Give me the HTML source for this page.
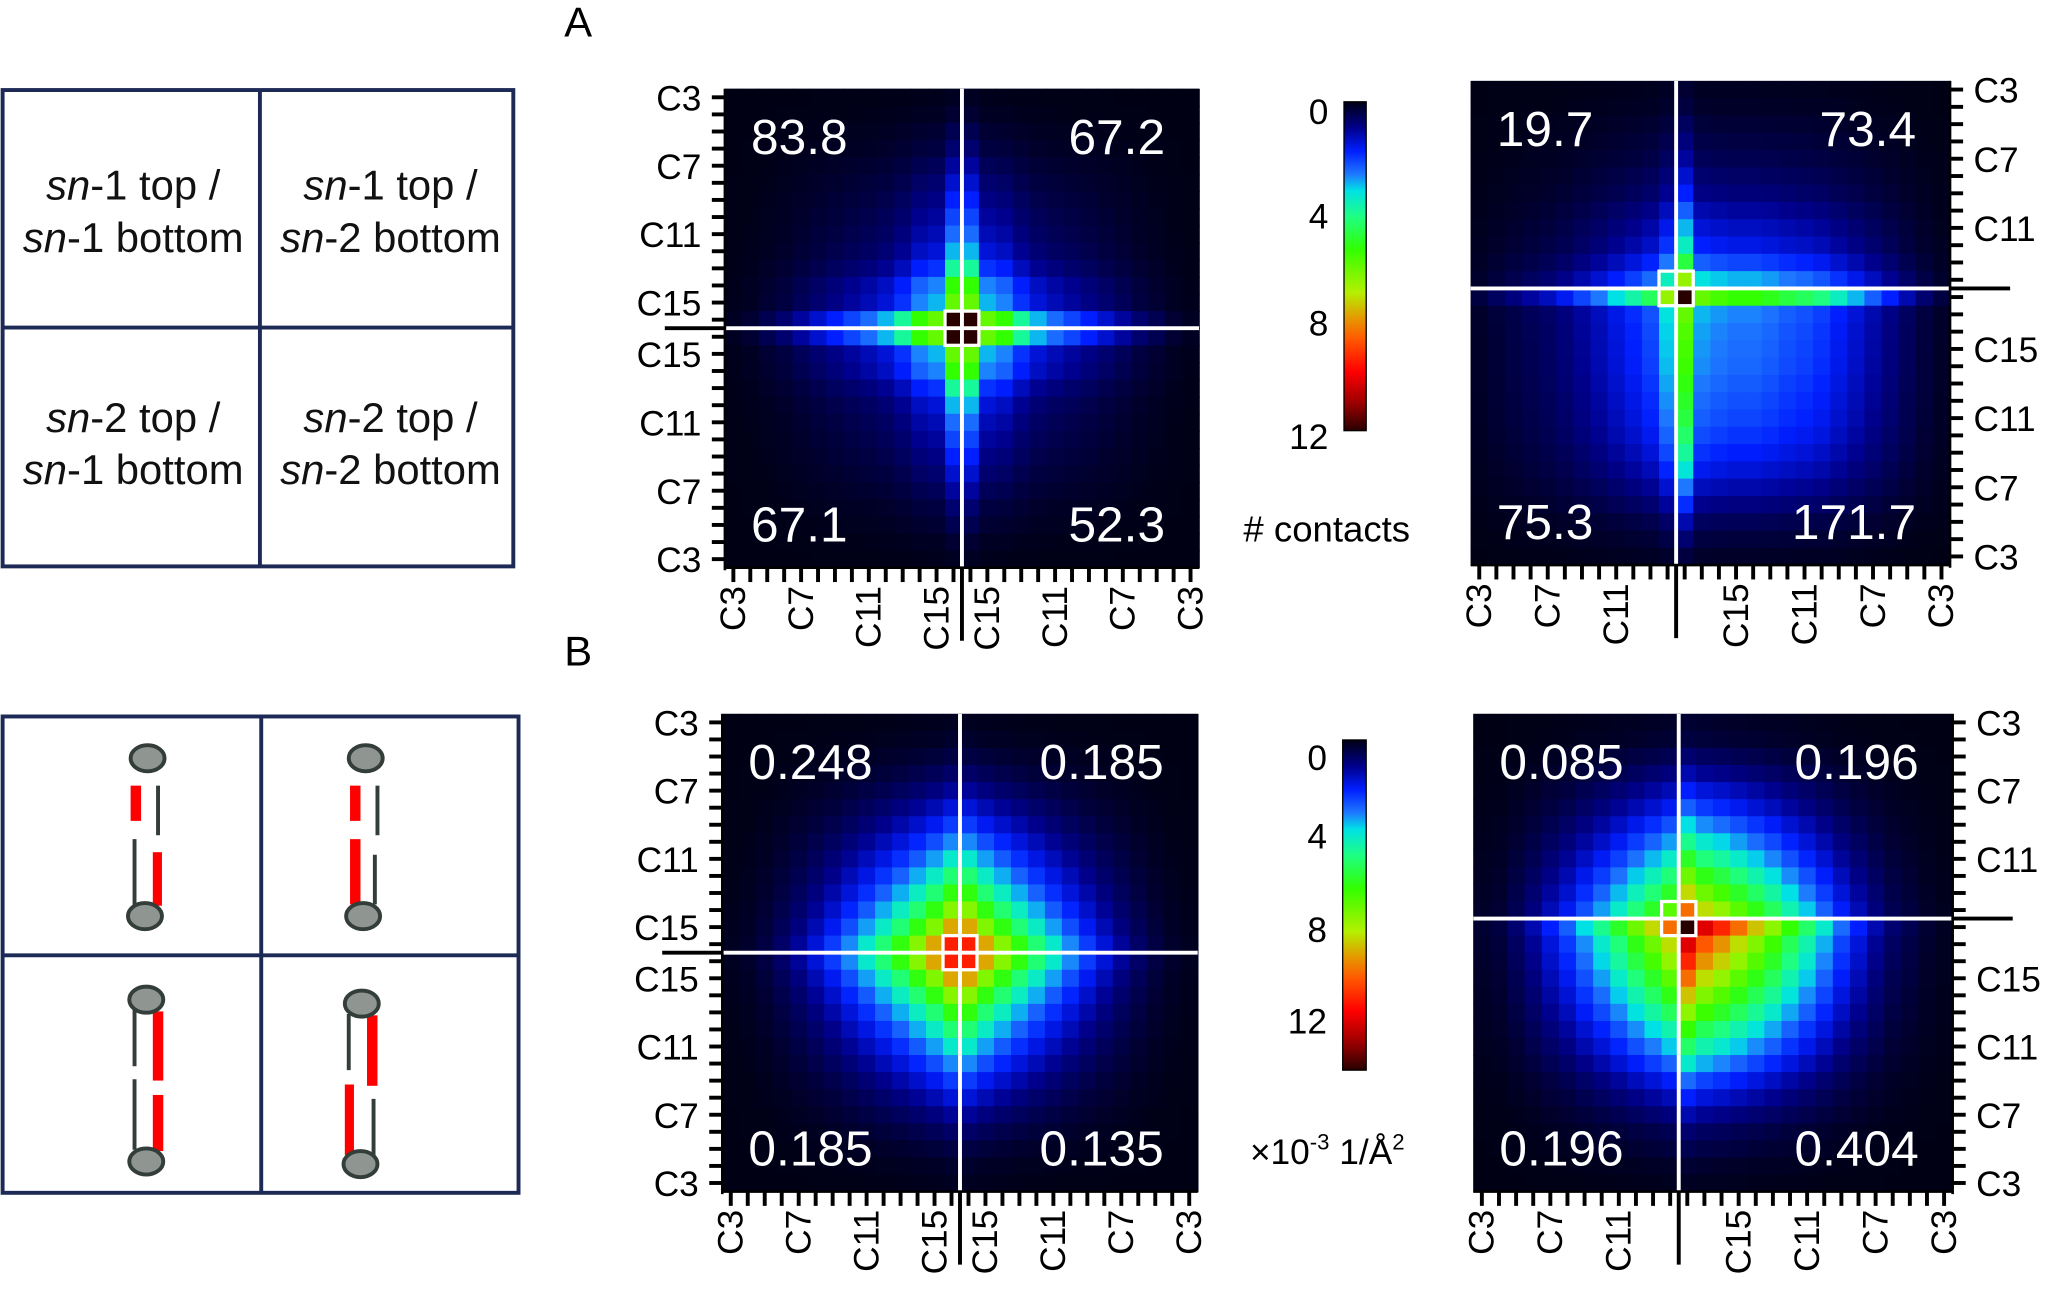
<!DOCTYPE html>
<html><head><meta charset="utf-8"><style>
html,body{margin:0;padding:0;background:#fff;}
svg{display:block;font-family:"Liberation Sans",Arial,sans-serif;}
</style></head><body>
<svg id="fig" xmlns="http://www.w3.org/2000/svg" width="2048" height="1292" viewBox="0 0 1568 990" preserveAspectRatio="none">
<defs>
<linearGradient id="cbar" x1="0" y1="0" x2="0" y2="1"></linearGradient>
</defs>
<rect x="0" y="0" width="1568" height="990" fill="#fff"/>
<text x="432" y="28" font-size="32">A</text>
<text x="432" y="510" font-size="32">B</text>

<g font-size="32" text-anchor="middle" fill="#111">
<rect x="2" y="69" width="391" height="365" fill="none" stroke="#1c2a55" stroke-width="3"/>
<line x1="199" y1="69" x2="199" y2="434" stroke="#1c2a55" stroke-width="3"/>
<line x1="2" y1="251" x2="393" y2="251" stroke="#1c2a55" stroke-width="3"/>
<text x="102" y="153"><tspan font-style="italic">sn</tspan>-1 top /</text>
<text x="102" y="193"><tspan font-style="italic">sn</tspan>-1 bottom</text>
<text x="299" y="153"><tspan font-style="italic">sn</tspan>-1 top /</text>
<text x="299" y="193"><tspan font-style="italic">sn</tspan>-2 bottom</text>
<text x="102" y="331"><tspan font-style="italic">sn</tspan>-2 top /</text>
<text x="102" y="371"><tspan font-style="italic">sn</tspan>-1 bottom</text>
<text x="299" y="331"><tspan font-style="italic">sn</tspan>-2 top /</text>
<text x="299" y="371"><tspan font-style="italic">sn</tspan>-2 bottom</text>
</g>

<g>
<rect x="2" y="549" width="395" height="365" fill="none" stroke="#1c2a55" stroke-width="3"/>
<line x1="200" y1="549" x2="200" y2="914" stroke="#1c2a55" stroke-width="3"/>
<line x1="2" y1="732" x2="397" y2="732" stroke="#1c2a55" stroke-width="3"/>
<g>
<rect x="100" y="602" width="8" height="27" fill="#f00"/><line x1="121" y1="602" x2="121" y2="640" stroke="#333d3a" stroke-width="3"/>
<line x1="103" y1="643" x2="103" y2="694" stroke="#333d3a" stroke-width="3"/><rect x="117" y="653" width="7" height="41" fill="#f00"/>
<ellipse cx="113" cy="581" rx="13" ry="10" fill="#8f9692" stroke="#333d3a" stroke-width="3"/>
<ellipse cx="111" cy="702" rx="13" ry="10" fill="#8f9692" stroke="#333d3a" stroke-width="3"/></g>
<g>
<rect x="268" y="602" width="8" height="27" fill="#f00"/><rect x="268" y="643" width="8" height="50" fill="#f00"/>
<line x1="289" y1="602" x2="289" y2="640" stroke="#333d3a" stroke-width="3"/><line x1="287" y1="655" x2="287" y2="693" stroke="#333d3a" stroke-width="3"/>
<ellipse cx="280" cy="581" rx="13" ry="10" fill="#8f9692" stroke="#333d3a" stroke-width="3"/>
<ellipse cx="278" cy="702" rx="13" ry="10" fill="#8f9692" stroke="#333d3a" stroke-width="3"/></g>
<g>
<line x1="103" y1="774" x2="103" y2="817" stroke="#333d3a" stroke-width="3"/><line x1="103" y1="827" x2="103" y2="881" stroke="#333d3a" stroke-width="3"/>
<rect x="117" y="775" width="8" height="53" fill="#f00"/><rect x="117" y="839" width="8" height="43" fill="#f00"/>
<ellipse cx="112" cy="766" rx="13" ry="10" fill="#8f9692" stroke="#333d3a" stroke-width="3"/>
<ellipse cx="112" cy="890" rx="13" ry="10" fill="#8f9692" stroke="#333d3a" stroke-width="3"/></g>
<g>
<line x1="267" y1="777" x2="267" y2="820" stroke="#333d3a" stroke-width="3"/><rect x="281" y="778" width="8" height="54" fill="#f00"/>
<rect x="264" y="831" width="7" height="54" fill="#f00"/><line x1="286" y1="842" x2="286" y2="887" stroke="#333d3a" stroke-width="3"/>
<ellipse cx="277" cy="769" rx="13" ry="10" fill="#8f9692" stroke="#333d3a" stroke-width="3"/>
<ellipse cx="276" cy="892" rx="13" ry="10" fill="#8f9692" stroke="#333d3a" stroke-width="3"/></g>
</g>

<g id="panels"></g>

<g font-size="27" text-anchor="end">
<rect x="1029" y="78" width="17" height="252" fill="url(#cbar)" stroke="#000" stroke-width="1"/>
<text x="1017" y="95">0</text><text x="1017" y="175">4</text><text x="1017" y="257">8</text><text x="1017" y="344">12</text>
<text x="952" y="415" text-anchor="start" font-size="28"># contacts</text>
</g>
<g font-size="27" text-anchor="end">
<rect x="1028" y="567" width="18" height="253" fill="url(#cbar)" stroke="#000" stroke-width="1"/>
<text x="1016" y="590">0</text><text x="1016" y="650">4</text><text x="1016" y="722">8</text><text x="1016" y="792">12</text>
<text x="957" y="892" text-anchor="start" font-size="27">×10<tspan font-size="17" dy="-11">-3</tspan><tspan dy="11"> 1/Å</tspan><tspan font-size="17" dy="-11">2</tspan></text>
</g>
</svg>
<script>
// ---- data: row / column factor profiles (index 0 = top row / left column) ----
const a1Rows=[0.01,0.02,0.04,0.06,0.09,0.12,0.15,0.18,0.21,0.25,0.33,0.45,0.5,1,1,0.5,0.45,0.33,0.25,0.21,0.18,0.15,0.12,0.09,0.06,0.04,0.02,0.01];
const a1Cols=[0.01,0.02,0.04,0.06,0.09,0.12,0.15,0.18,0.21,0.25,0.33,0.45,0.5,1,1,0.5,0.45,0.33,0.25,0.21,0.18,0.15,0.12,0.09,0.06,0.04,0.02,0.01];
const a1Peak=12;
const a2Rows=[0.02,0.03,0.05,0.07,0.09,0.12,0.15,0.2,0.25,0.3,0.4,0.55,1,0.5,0.48,0.47,0.46,0.44,0.42,0.4,0.37,0.33,0.28,0.22,0.16,0.1,0.06,0.03];
const a2Cols=[0.03,0.05,0.07,0.09,0.11,0.14,0.18,0.22,0.27,0.32,0.38,0.55,1,0.5,0.47,0.45,0.45,0.43,0.4,0.38,0.35,0.3,0.25,0.2,0.15,0.1,0.06,0.03];
const a2Peak=12;
const b1Rows=[0.01,0.02,0.04,0.07,0.11,0.16,0.22,0.29,0.37,0.46,0.56,0.68,0.82,1,1,0.82,0.68,0.56,0.46,0.37,0.29,0.22,0.16,0.11,0.07,0.04,0.02,0.01];
const b1Cols=[0.01,0.02,0.04,0.07,0.11,0.16,0.22,0.29,0.37,0.46,0.56,0.68,0.82,1,1,0.82,0.68,0.56,0.46,0.37,0.29,0.22,0.16,0.11,0.07,0.04,0.02,0.01];
const b1Peak=11;
const b2Rows=[0.02,0.03,0.06,0.1,0.15,0.2,0.27,0.34,0.42,0.51,0.6,0.7,1,0.85,0.78,0.7,0.62,0.54,0.45,0.37,0.29,0.21,0.15,0.1,0.06,0.04,0.02,0.01];
const b2Cols=[0.02,0.03,0.06,0.1,0.15,0.2,0.27,0.34,0.42,0.51,0.6,0.7,1,0.85,0.78,0.7,0.62,0.54,0.45,0.37,0.29,0.21,0.15,0.1,0.06,0.04,0.02,0.01];
const b2Peak=14;
const a1Corners=["83.8","67.2","67.1","52.3"];
const a2Corners=["19.7","73.4","75.3","171.7"];
const b1Corners=["0.248","0.185","0.185","0.135"];
const b2Corners=["0.085","0.196","0.196","0.404"];
const tickLabelsTop=["C3","C7","C11","C15"];

const NS="http://www.w3.org/2000/svg";
const stops=[[0,[0,0,20]],[0.08,[0,0,140]],[0.15,[0,30,255]],[0.22,[30,120,255]],[0.27,[0,225,230]],[0.35,[30,255,130]],[0.45,[50,255,0]],[0.58,[180,240,0]],[0.66,[230,150,0]],[0.72,[255,90,0]],[0.82,[255,0,0]],[0.92,[150,0,0]],[1,[40,0,0]]];
function cmap(t){t=Math.max(0,Math.min(1,t));for(let k=1;k<stops.length;k++){if(t<=stops[k][0]){const a=stops[k-1],b=stops[k];const f=(t-a[0])/(b[0]-a[0]);const c=a[1].map((v,i)=>Math.round(v+(b[1][i]-v)*f));return `rgb(${c[0]},${c[1]},${c[2]})`;}}return "rgb(40,0,0)";}
const grad=document.getElementById('cbar');
stops.forEach(s=>{const st=document.createElementNS(NS,'stop');st.setAttribute('offset',s[0]);st.setAttribute('stop-color',`rgb(${s[1].join(',')})`);grad.appendChild(st);});

function mk(tag,attrs,parent){const e=document.createElementNS(NS,tag);for(const k in attrs)e.setAttribute(k,attrs[k]);parent.appendChild(e);return e;}
const root=document.getElementById('panels');

function panel(name,g,rows,cols,peak,vmax,corners,side,split){
  const grp=mk('g',{},root);
  
  
  const n=rows.length,cw=(g.x1-g.x0)/n,ch=(g.y1-g.y0)/n;
  const xs=i=>g.x0+i*cw, ys=i=>g.y0+i*ch;
  mk('rect',{x:g.x0,y:g.y0,width:g.x1-g.x0,height:g.y1-g.y0,fill:'#000014'},grp);
  for(let i=0;i<n;i++)for(let j=0;j<n;j++){
    const v=peak*rows[i]*cols[j];
    const r=mk('rect',{x:xs(j).toFixed(2),y:ys(i).toFixed(2),width:(cw+0.6).toFixed(2),height:(ch+0.6).toFixed(2),fill:cmap(v/vmax)},grp);
    
    
  }
  const cx=xs(split),cy=ys(split);
  mk('line',{x1:cx,y1:g.y0,x2:cx,y2:g.y1,stroke:'#fff','stroke-width':3},grp);
  mk('line',{x1:g.x0,y1:cy,x2:g.x1,y2:cy,stroke:'#fff','stroke-width':3},grp);
  mk('rect',{x:cx-cw,y:cy-ch,width:2*cw,height:2*ch,fill:'none',stroke:'#fff','stroke-width':2.5},grp);
  const fs=38;
  const cv=[[g.x0+20,g.y0+50,'start'],[g.x1-26,g.y0+50,'end'],[g.x0+20,g.y1-20,'start'],[g.x1-26,g.y1-20,'end']];
  cv.forEach((p,k)=>{const t=mk('text',{x:p[0],y:p[1],'text-anchor':p[2],'font-size':fs,fill:'#fff'},grp);t.textContent=corners[k];
    
    });
  const ax=side==='left'?g.x0:g.x1, dir=side==='left'?-1:1;
  mk('line',{x1:ax,y1:g.y0,x2:ax,y2:g.y1+2,stroke:'#000','stroke-width':2},grp);
  for(let i=0;i<n;i++){const y=ys(i)+ch/2;mk('line',{x1:ax,y1:y,x2:ax+dir*10,y2:y,stroke:'#000','stroke-width':3},grp);}
  mk('line',{x1:ax,y1:cy,x2:ax+dir*46,y2:cy,stroke:'#000','stroke-width':3},grp);
  const lx=side==='left'?ax-18:ax+18, anc=side==='left'?'end':'start';
  for(let i=0;i<n;i++){
    let idx=null;
    if(i<split){if(i%4===0)idx=i/4;}else{const k=n-1-i;if(k%4===0)idx=k/4;}
    if(idx===null||idx>3)continue;
    const t=mk('text',{x:lx,y:ys(i)+ch/2+10,'text-anchor':anc,'font-size':27},grp);
    t.textContent=tickLabelsTop[idx];
    
    
  }
  mk('line',{x1:g.x0,y1:g.y1,x2:g.x1,y2:g.y1,stroke:'#000','stroke-width':2},grp);
  for(let j=0;j<n;j++){const x=xs(j)+cw/2;mk('line',{x1:x,y1:g.y1,x2:x,y2:g.y1+11,stroke:'#000','stroke-width':3},grp);}
  mk('line',{x1:cx,y1:g.y1,x2:cx,y2:g.y1+56,stroke:'#000','stroke-width':3},grp);
  for(let j=0;j<n;j++){
    let idx=null;
    if(j<split){if(j%4===0)idx=j/4;}else{const k=n-1-j;if(k%4===0)idx=k/4;}
    if(idx===null||idx>3)continue;
    const x=xs(j)+cw/2+9,y=g.y1+14;
    const t=mk('text',{x:x,y:y,'text-anchor':'end','font-size':27,transform:`rotate(-90 ${x} ${y})`},grp);
    t.textContent=tickLabelsTop[idx];
    
    
  }
}
panel('heatmap-a-left',{x0:555,x1:918,y0:68,y1:435},a1Rows,a1Cols,a1Peak,12,a1Corners,'left',14);
panel('heatmap-a-right',{x0:1126,x1:1493,y0:62,y1:433},a2Rows,a2Cols,a2Peak,12,a2Corners,'right',12);
panel('heatmap-b-left',{x0:553,x1:917,y0:547,y1:913},b1Rows,b1Cols,b1Peak,14,b1Corners,'left',14);
panel('heatmap-b-right',{x0:1128,x1:1495,y0:547,y1:913},b2Rows,b2Cols,b2Peak,14,b2Corners,'right',12);
</script>
</body></html>
